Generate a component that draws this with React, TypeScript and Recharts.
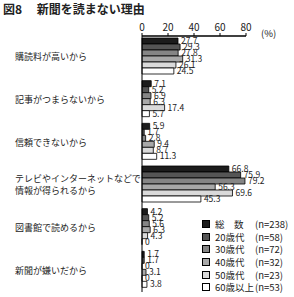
import React from 'react'
import { BarChart, Bar, XAxis, YAxis, LabelList, Legend } from 'recharts'

const reasons = [
    '購読料が高いから',
    '記事がつまらないから',
    '信頼できないから',
    'テレビやインターネットなどで\n情報が得られるから',
    '図書館で読めるから',
    '新聞が嫌いだから',
]
const total = [27.7, 7.1, 5.9, 66.8, 4.2, 1.7]
const age20 = [29.3, 5.2, 1.7, 75.9, 5.2, 1.7]
const age30 = [27.8, 6.9, 2.8, 79.2, 5.6, 0]
const age40 = [31.3, 6.3, 9.4, 56.3, 6.3, 3.1]
const age50 = [26.1, 17.4, 8.7, 69.6, 4.3, 0]
const age60 = [24.5, 5.7, 11.3, 45.3, 0, 3.8]

const seriesNames = ['総　数', '20歳代', '30歳代', '40歳代', '50歳代', '60歳以上']
const seriesN = ['(n=238)', '(n=58)', '(n=72)', '(n=32)', '(n=23)', '(n=53)']
const xTicks = [0, 20, 40, 60, 80]

const colors = ['#1c1c1c', '#555555', '#858585', '#a8a8a8', '#dadada', '#ffffff']
const keys = ['s0', 's1', 's2', 's3', 's4', 's5']
const allSeries = [total, age20, age30, age40, age50, age60]

const data = reasons.map((r, i) => {
    const row: any = { reason: r }
    allSeries.forEach((s, j) => { row[keys[j]] = s[i] })
    return row
})

const font = '"Noto Sans CJK JP", "Noto Sans", sans-serif'

function ReasonTick(props: any) {
    const { y, payload } = props
    const lines = String(payload.value).split('\n')
    const y0 = y - (lines.length - 1) * 6
    return (
        <g>
            {lines.map((l, i) => (
                <text key={i} x={15} y={y0 + i * 12} dy={3} textAnchor="start" fontSize={9} fill="#222" fontFamily={font}>{l}</text>
            ))}
        </g>
    )
}

function LegendBox() {
    return (
        <div style={{ fontFamily: font, fontSize: 9.5, color: '#222' }}>
            {seriesNames.map((n, i) => (
                <div key={i} style={{ display: 'flex', alignItems: 'center', height: 12.6 }}>
                    <span style={{ display: 'inline-block', width: 6, height: 6, border: '1px solid #000', background: colors[i], marginRight: 5 }}/>
                    <span style={{ width: 40, whiteSpace: 'pre' }}>{n}</span>
                    <span>{seriesN[i]}</span>
                </div>
            ))}
        </div>
    )
}

export default function App() {
    return (
        <div style={{ position: 'absolute', left: 0, top: 0, width: 294, height: 297, background: '#fff', fontFamily: font }}>
            <div style={{ position: 'absolute', left: 3, top: 0, fontSize: 12, fontWeight: 'bold', color: '#222', whiteSpace: 'pre' }}>図8　 新聞を読まない理由</div>
            <div style={{ position: 'absolute', left: 261, top: 26, fontSize: 9.5, color: '#222' }}>(%)</div>
            <BarChart
                width={294}
                height={297}
                data={data}
                layout="vertical"
                margin={{ top: 16, right: 48, bottom: 5, left: 0 }}
                barCategoryGap={2}
                barGap={0}
            >
                <XAxis
                    type="number"
                    orientation="top"
                    domain={[0, 80]}
                    ticks={xTicks}
                    height={20}
                    tickSize={3}
                    axisLine={{ stroke: '#000', strokeWidth: 1.5 }}
                    tickLine={{ stroke: '#000' }}
                    tick={{ fontSize: 10, fill: '#222', fontFamily: font }}
                />
                <YAxis
                    type="category"
                    dataKey="reason"
                    width={142}
                    axisLine={{ stroke: '#000' }}
                    tickLine={false}
                    tick={<ReasonTick/>}
                />
                <Legend
                    layout="vertical"
                    align="center"
                    verticalAlign="middle"
                    content={<LegendBox/>}
                    wrapperStyle={{ position: 'absolute', left: 202, top: 218, width: 92 }}
                />
                {keys.map((k, i) => (
                    <Bar key={k} dataKey={k} name={seriesNames[i]} fill={colors[i]} stroke="#000" strokeWidth={0.8} minPointSize={0.01} isAnimationActive={false}>
                        <LabelList dataKey={k} position="right" offset={3} fontSize={8.5} fill="#222" fontFamily={font}/>
                    </Bar>
                ))}
            </BarChart>
        </div>
    )
}
